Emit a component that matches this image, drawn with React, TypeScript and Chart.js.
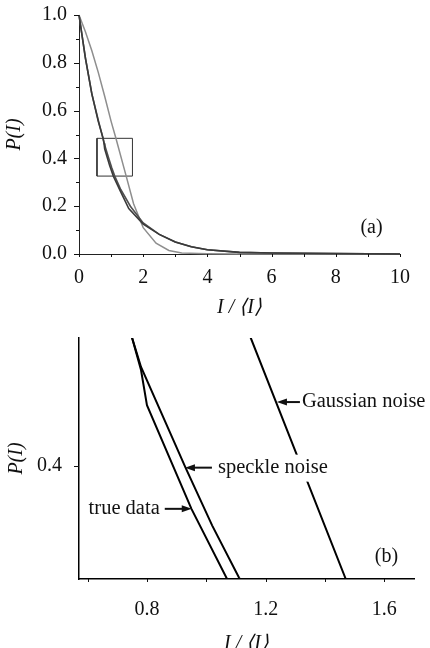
import React, { useEffect, useRef } from "react";
import { Chart, registerables } from "chart.js";

Chart.register(...registerables);

// ---------- data ----------
const trueX = [0, 0.2, 0.4, 0.6, 0.75, 0.78, 0.8, 0.95, 1.07, 1.3, 1.55, 2.0, 2.5, 3.0, 3.5, 4.0, 5.0, 6.0, 7.0, 8.0, 9.0, 10];
const trueY = [1.0, 0.82, 0.67, 0.555, 0.484, 0.463, 0.44, 0.372, 0.326, 0.26, 0.19, 0.125, 0.082, 0.05, 0.03, 0.018, 0.007, 0.004, 0.003, 0.002, 0.001, 0.0];

const speckleX = [0, 0.2, 0.4, 0.6, 0.75, 0.78, 0.93, 1.02, 1.11, 1.3, 1.6, 2.0, 2.5, 3.0, 3.5, 4.0, 5.0, 6.0, 7.0, 8.0, 9.0, 10];
const speckleY = [1.0, 0.82, 0.67, 0.56, 0.484, 0.465, 0.399, 0.361, 0.327, 0.27, 0.2, 0.13, 0.082, 0.05, 0.03, 0.018, 0.007, 0.004, 0.003, 0.002, 0.001, 0.0];

const gaussX = [0, 0.2, 0.4, 0.6, 0.8, 1.0, 1.15, 1.47, 1.7, 2.0, 2.4, 2.8, 3.2, 4.0, 5.0, 10];
const gaussY = [1.0, 0.93, 0.85, 0.76, 0.66, 0.555, 0.484, 0.326, 0.21, 0.11, 0.045, 0.015, 0.004, 0.001, 0.0, 0.0];

const seriesNames = ["true data", "speckle noise", "Gaussian noise"];

// zoom window shown in panel (b) and marked by the box in panel (a)
const zoomXRange = [0.571, 1.7];
const zoomYRange = [0.326, 0.484];
const boxX = [0.56, 1.665, 1.665, 0.56, 0.56];
const boxY = [0.326, 0.326, 0.484, 0.484, 0.326];

// ticks
const topXTicks = [0, 1, 2, 3, 4, 5, 6, 7, 8, 9, 10];
const topXLabels = [0, 2, 4, 6, 8, 10];
const topYTicks = [0, 0.1, 0.2, 0.3, 0.4, 0.5, 0.6, 0.7, 0.8, 0.9, 1.0];
const topYLabels = [0, 0.2, 0.4, 0.6, 0.8, 1.0];
const zoomXTicks = [0.6, 0.8, 1.0, 1.2, 1.4, 1.6];
const zoomXLabels = [0.8, 1.2, 1.6];
const zoomYTicks = [0.4];
const zoomYLabels = [0.4];

// arrow annotations in panel (b): where each arrow points
const noteText = ["Gaussian noise", "speckle noise", "true data"];
const noteX = [1.238, 0.928, 0.951];
const noteY = [0.442, 0.399, 0.372];
const noteSide = ["right", "right", "left"];

// ---------- styling / layout ----------
const SERIF = "'Liberation Serif', 'Times New Roman', serif";
const INK = "#111";
const NOTE_ARROW_LEN = [23, 27, 27];
const NOTE_TEXT_GAP = [2, 6, 5];

const pts = (xs: number[], ys: number[]) => xs.map((x, i) => ({ x, y: ys[i] }));

function tickPlugin(xMajor: number[], yMajor: number[], xLen: number, yMajorLen: number, yMinorLen: number) {
  return {
    id: "tickMarks",
    afterDraw(chart: any) {
      const ctx = chart.ctx;
      const xs = chart.scales.x;
      const ys = chart.scales.y;
      ctx.save();
      ctx.strokeStyle = INK;
      ctx.lineWidth = 1;
      xs.ticks.forEach((t: any) => {
        const px = Math.round(xs.getPixelForValue(t.value)) + 0.5;
        ctx.beginPath();
        ctx.moveTo(px, xs.top);
        ctx.lineTo(px, xs.top + xLen);
        ctx.stroke();
      });
      ys.ticks.forEach((t: any) => {
        const py = Math.round(ys.getPixelForValue(t.value)) + 0.5;
        const len = yMajor.includes(t.value) ? yMajorLen : yMinorLen;
        ctx.beginPath();
        ctx.moveTo(ys.right - len, py);
        ctx.lineTo(ys.right, py);
        ctx.stroke();
      });
      ctx.restore();
    },
  };
}

function panelLetterPlugin(text: string, dx: number, dy: number) {
  return {
    id: "panelLetter",
    afterDraw(chart: any) {
      const ctx = chart.ctx;
      const a = chart.chartArea;
      ctx.save();
      ctx.fillStyle = INK;
      ctx.font = `20px ${SERIF}`;
      ctx.textAlign = "center";
      ctx.textBaseline = "middle";
      ctx.fillText(text, a.right + dx, a.bottom + dy);
      ctx.restore();
    },
  };
}

const notesPlugin = {
  id: "arrowNotes",
  afterDatasetsDraw(chart: any) {
    const ctx = chart.ctx;
    const xs = chart.scales.x;
    const ys = chart.scales.y;
    ctx.save();
    ctx.font = `20.5px ${SERIF}`;
    ctx.textBaseline = "middle";
    noteText.forEach((txt, i) => {
      const tx = xs.getPixelForValue(noteX[i]);
      const ty = ys.getPixelForValue(noteY[i]);
      const dir = noteSide[i] === "right" ? 1 : -1;
      const tail = tx + dir * NOTE_ARROW_LEN[i];
      const w = ctx.measureText(txt).width;
      const textX = dir > 0 ? tail + NOTE_TEXT_GAP[i] : tail - NOTE_TEXT_GAP[i] - w;
      // white box behind label
      ctx.fillStyle = "#fff";
      ctx.fillRect(textX - 3, ty - 13, w + 6, 27);
      ctx.fillStyle = INK;
      ctx.textAlign = "left";
      ctx.fillText(txt, textX, ty);
      // arrow shaft
      ctx.strokeStyle = INK;
      ctx.lineWidth = 2;
      ctx.beginPath();
      ctx.moveTo(tx + dir * 6, ty);
      ctx.lineTo(tail, ty);
      ctx.stroke();
      // arrow head
      ctx.beginPath();
      ctx.moveTo(tx, ty);
      ctx.lineTo(tx + dir * 10, ty - 3.5);
      ctx.lineTo(tx + dir * 10, ty + 3.5);
      ctx.closePath();
      ctx.fillStyle = INK;
      ctx.fill();
    });
    ctx.restore();
  },
};

function axisTickFont() {
  return { family: SERIF, size: 20 };
}

function fixWidth(w: number) {
  return (s: any) => {
    s.width = w;
    s.paddingTop = 0;
    s.paddingBottom = 0;
  };
}
function fixHeight(h: number) {
  return (s: any) => {
    s.height = h;
    s.paddingLeft = 0;
    s.paddingRight = 0;
  };
}

function makeTopConfig(): any {
  return {
    type: "line",
    data: {
      datasets: [
        { label: seriesNames[0], data: pts(trueX, trueY), borderColor: "#3a3a3a", borderWidth: 1.6, pointRadius: 0, tension: 0, clip: 2 },
        { label: seriesNames[1], data: pts(speckleX, speckleY), borderColor: "#505050", borderWidth: 1.6, pointRadius: 0, tension: 0, clip: 2 },
        { label: seriesNames[2], data: pts(gaussX, gaussY), borderColor: "#8e8e8e", borderWidth: 1.5, pointRadius: 0, tension: 0, clip: 2 },
        { label: "zoom box", data: pts(boxX, boxY), borderColor: "#333", borderWidth: 1, pointRadius: 0, tension: 0, clip: 2 },
      ],
    },
    options: {
      responsive: false,
      animation: false,
      layout: { padding: { top: 15, right: 30, bottom: 0, left: 0 } },
      plugins: { legend: { display: false }, tooltip: { enabled: false } },
      scales: {
        x: {
          type: "linear",
          min: 0,
          max: 10,
          afterBuildTicks: (s: any) => {
            s.ticks = topXTicks.map((v) => ({ value: v }));
          },
          afterFit: fixHeight(76),
          grid: { display: true, drawOnChartArea: false, drawTicks: false },
          border: { display: true, color: "#222", width: 1 },
          ticks: {
            autoSkip: false,
            maxRotation: 0,
            padding: 12,
            color: INK,
            font: axisTickFont(),
            callback: (v: number) => (topXLabels.includes(v) ? String(v) : ""),
          },
          title: {
            display: true,
            text: "I / \u27E8I\u27E9",
            color: INK,
            font: { family: SERIF, size: 20, style: "italic" },
            padding: { top: 0, bottom: 10 },
          },
        },
        y: {
          type: "linear",
          min: 0,
          max: 1,
          afterBuildTicks: (s: any) => {
            s.ticks = topYTicks.map((v) => ({ value: v }));
          },
          afterFit: fixWidth(79),
          grid: { display: true, drawOnChartArea: false, drawTicks: false },
          border: { display: true, color: "#222", width: 1 },
          ticks: {
            autoSkip: false,
            padding: 12,
            color: INK,
            font: axisTickFont(),
            callback: (v: number) => (topYLabels.includes(v) ? v.toFixed(1) : ""),
          },
          title: {
            display: true,
            text: "P(I)",
            color: INK,
            font: { family: SERIF, size: 20, style: "italic" },
            padding: { top: 3, bottom: 0 },
          },
        },
      },
    },
    plugins: [tickPlugin(topXLabels, topYLabels, 3, 5, 3), panelLetterPlugin("(a)", -28.5, -26.5)],
  };
}

function makeBottomConfig(): any {
  return {
    type: "line",
    data: {
      datasets: [
        { label: seriesNames[0], data: pts(trueX, trueY), borderColor: "#000", borderWidth: 2, pointRadius: 0, tension: 0, clip: 0 },
        { label: seriesNames[1], data: pts(speckleX, speckleY), borderColor: "#000", borderWidth: 2, pointRadius: 0, tension: 0, clip: 0 },
        { label: seriesNames[2], data: pts(gaussX, gaussY), borderColor: "#000", borderWidth: 2, pointRadius: 0, tension: 0, clip: 0 },
      ],
    },
    options: {
      responsive: false,
      animation: false,
      layout: { padding: { top: 8, right: 16, bottom: 0, left: 0 } },
      plugins: { legend: { display: false }, tooltip: { enabled: false } },
      scales: {
        x: {
          type: "linear",
          min: zoomXRange[0],
          max: zoomXRange[1],
          afterBuildTicks: (s: any) => {
            s.ticks = zoomXTicks.map((v) => ({ value: v }));
          },
          afterFit: fixHeight(81),
          grid: { display: true, drawOnChartArea: false, drawTicks: false },
          border: { display: true, color: "#000", width: 1.5 },
          ticks: {
            autoSkip: false,
            maxRotation: 0,
            padding: 19,
            color: INK,
            font: axisTickFont(),
            callback: (v: number) => (zoomXLabels.includes(v) ? v.toFixed(1) : ""),
          },
          title: {
            display: true,
            text: "I / \u27E8I\u27E9",
            color: INK,
            font: { family: SERIF, size: 20, style: "italic" },
            padding: { top: 0, bottom: 4 },
          },
        },
        y: {
          type: "linear",
          min: zoomYRange[0],
          max: zoomYRange[1],
          afterBuildTicks: (s: any) => {
            s.ticks = zoomYTicks.map((v) => ({ value: v }));
          },
          afterFit: fixWidth(79),
          grid: { display: true, drawOnChartArea: false, drawTicks: false },
          border: { display: true, color: "#000", width: 1.5 },
          ticks: {
            autoSkip: false,
            padding: 17,
            color: INK,
            font: axisTickFont(),
            callback: (v: number) => (zoomYLabels.includes(v) ? v.toFixed(1) : ""),
          },
          title: {
            display: true,
            text: "P(I)",
            color: INK,
            font: { family: SERIF, size: 20, style: "italic" },
            padding: { top: 5, bottom: 0 },
          },
        },
      },
    },
    plugins: [tickPlugin(zoomXLabels, zoomYLabels, 3, 5, 5), notesPlugin, panelLetterPlugin("(b)", -27.5, -22)],
  };
}

export default function App() {
  const topRef = useRef<HTMLCanvasElement>(null);
  const botRef = useRef<HTMLCanvasElement>(null);

  useEffect(() => {
    const c1 = new Chart(topRef.current as HTMLCanvasElement, makeTopConfig());
    const c2 = new Chart(botRef.current as HTMLCanvasElement, makeBottomConfig());
    return () => {
      c1.destroy();
      c2.destroy();
    };
  }, []);

  return (
    <div style={{ position: "fixed", left: 0, top: 0, width: 430, height: 648, overflow: "hidden", background: "#fff" }}>
      <canvas ref={topRef} width={430} height={330} style={{ position: "absolute", left: 0, top: 0 }} />
      <canvas ref={botRef} width={430} height={330} style={{ position: "absolute", left: 0, top: 330 }} />
    </div>
  );
}
